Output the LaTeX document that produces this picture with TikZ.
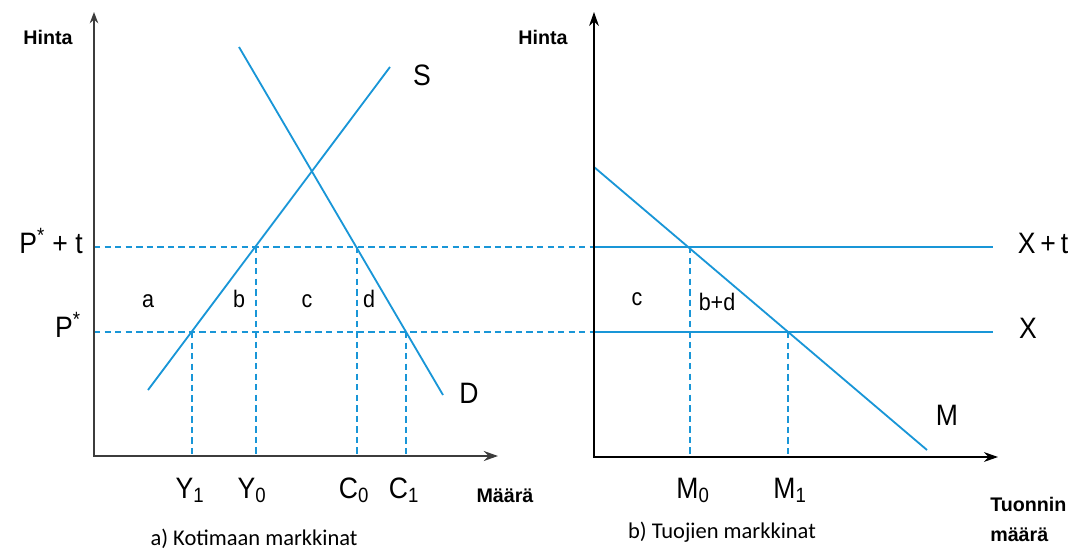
\documentclass[tikz,border=0pt]{standalone}
\usepackage{fontspec}
\setmainfont{Liberation Sans}
\newfontfamily\capfont{Carlito}
\newfontfamily\labfont[FakeStretch=0.9]{Liberation Sans}
\usetikzlibrary{arrows.meta}
\definecolor{blu}{RGB}{25,150,215}
\definecolor{axgray}{RGB}{60,60,60}
\tikzset{
  curve/.style={draw=blu, line width=1.3pt},
  guide/.style={draw=blu, line width=1.1pt, dash pattern=on 4.5pt off 3pt},
  axisthick/.style={draw=axgray, line width=2pt, {Stealth[length=8pt,width=6pt]}-{Stealth[length=10pt,width=7pt]}},
  axisthin/.style={draw=black, line width=1.1pt, {Stealth[length=10pt,width=7pt]}-{Stealth[length=10pt,width=7pt]}},
  axlbl/.style={font=\fontsize{14}{21}\selectfont\bfseries, inner sep=0pt},
  biglbl/.style={font=\labfont\fontsize{21}{23}\selectfont, inner sep=0pt, anchor=base},
  smalllbl/.style={font=\labfont\fontsize{17}{19}\selectfont, inner sep=0pt, anchor=base},
  caption/.style={font=\capfont\fontsize{16}{18}\selectfont, inner sep=0pt, anchor=base}
}
\begin{document}
\begin{tikzpicture}[x=0.025cm,y=-0.025cm]
\useasboundingbox (0,0) rectangle (1080,553);
% ---------- left panel ----------
\coordinate (LYtop) at (94,12);
\coordinate (LO) at (94,456);
\coordinate (LXend) at (498,456);
\coordinate (S1) at (148,390);
\coordinate (S2) at (390,67);
\coordinate (D1) at (239,47);
\coordinate (D2) at (443,395);
\coordinate (PtL) at (94,247);
\coordinate (PtR) at (594,247);
\coordinate (PL) at (94,332);
\coordinate (PR) at (594,332);
\coordinate (Y1t) at (192,332);
\coordinate (Y1b) at (192,456);
\coordinate (Y0t) at (256,247);
\coordinate (Y0b) at (256,456);
\coordinate (C0t) at (357,247);
\coordinate (C0b) at (357,456);
\coordinate (C1t) at (406,332);
\coordinate (C1b) at (406,456);
\draw[guide] (PtL) -- (PtR);
\draw[guide] (PL) -- (PR);
\draw[guide] (Y1t) -- (Y1b);
\draw[guide] (Y0t) -- (Y0b);
\draw[guide] (C0t) -- (C0b);
\draw[guide] (C1t) -- (C1b);
\draw[curve] (S1) -- (S2);
\draw[curve] (D1) -- (D2);
\draw[axisthick] (LYtop) -- (LO) -- (LXend);
\node[axlbl] (hintaL) at (48,37) {Hinta};
\node[biglbl, anchor=base east] (ptlbl) at (83,253) {P\textsuperscript{*} + t};
\node[biglbl, anchor=base east] (plbl) at (81,337) {P\textsuperscript{*}};
\node[smalllbl] (la) at (148,307) {a};
\node[smalllbl] (lb) at (239,307) {b};
\node[smalllbl] (lc) at (307,307) {c};
\node[smalllbl] (ld) at (369,307) {d};
\node[biglbl] (Slbl) at (422,85) {S};
\node[biglbl] (Dlbl) at (469,403) {D};
\node[biglbl] (Y1lbl) at (190,498) {Y\textsubscript{1}};
\node[biglbl] (Y0lbl) at (252,498) {Y\textsubscript{0}};
\node[biglbl] (C0lbl) at (354,498) {C\textsubscript{0}};
\node[biglbl] (C1lbl) at (404,498) {C\textsubscript{1}};
\node[axlbl, anchor=base] (maaraL) at (505,502) {Määrä};
\node[caption] (capA) at (254,545) {a) Kotimaan markkinat};
% ---------- right panel ----------
\coordinate (RYtop) at (594,12);
\coordinate (RO) at (594,457);
\coordinate (RXend) at (998,457);
\coordinate (M1s) at (594,167);
\coordinate (M2s) at (927,450);
\coordinate (XtR) at (993,247);
\coordinate (XR) at (993,332);
\coordinate (M0t) at (690,247);
\coordinate (M0b) at (690,457);
\coordinate (M1t) at (788,332);
\coordinate (M1b) at (788,457);
\draw[guide] (M0t) -- (M0b);
\draw[guide] (M1t) -- (M1b);
\draw[curve] (PtR) -- (XtR);
\draw[curve] (PR) -- (XR);
\draw[curve] (M1s) -- (M2s);
\draw[axisthin] (RYtop) -- (RO) -- (RXend);
\node[axlbl] (hintaR) at (543,37) {Hinta};
\node[biglbl] (Xtlbl) at (1043,253) {X\,+\,t};
\node[biglbl] (Xlbl) at (1028,338) {X};
\node[biglbl] (Mlbl) at (947,425) {M};
\node[smalllbl] (rc) at (637,305) {c};
\node[smalllbl] (rbd) at (717,310) {b+d};
\node[biglbl] (M0lbl) at (693,498) {M\textsubscript{0}};
\node[biglbl] (M1lbl) at (790,498) {M\textsubscript{1}};
\node[axlbl, align=left, anchor=north west] (tuonti) at (990,497) {Tuonnin\\määrä};
\node[caption] (capB) at (722,538) {b) Tuojien markkinat};
\end{tikzpicture}
\end{document}
